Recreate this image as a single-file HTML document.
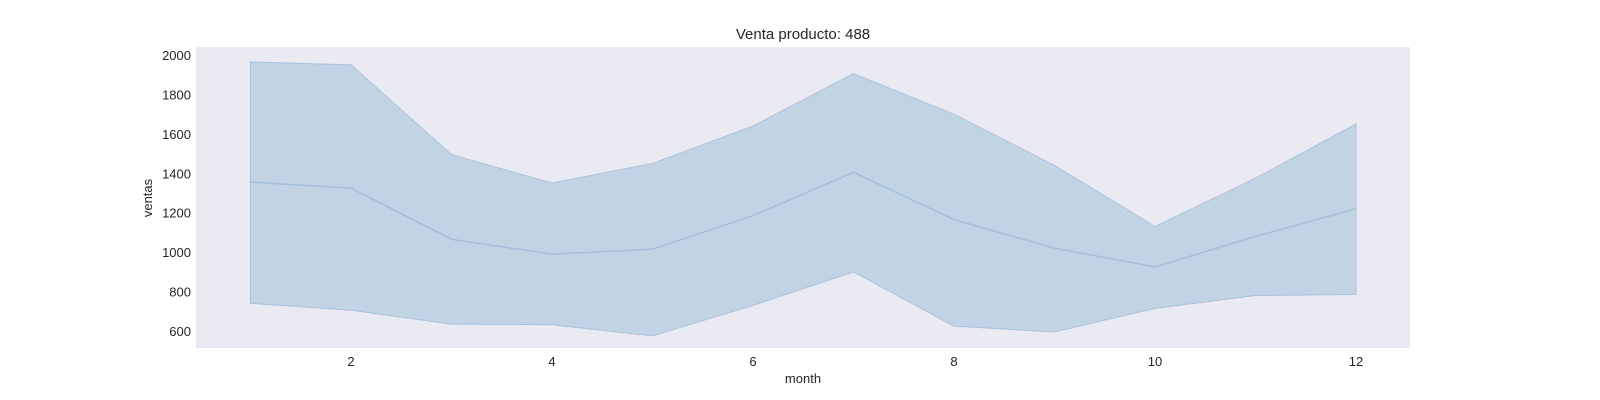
<!DOCTYPE html>
<html><head><meta charset="utf-8"><style>
body{margin:0;background:#fff;}
svg{display:block;font-family:"Liberation Sans",sans-serif;}
</style></head><body>
<svg id="chart" width="1600" height="400">
<rect x="196" y="47" width="1214" height="301" fill="#eaeaf2"/>
<text x="803" y="39" text-anchor="middle" font-size="15" fill="#262626">Venta producto: 488</text>
<text x="803" y="383" text-anchor="middle" font-size="13" fill="#262626">month</text>
<text transform="translate(152,198) rotate(-90)" text-anchor="middle" font-size="13" fill="#262626">ventas</text>
<g id="band"></g>
<g id="xt"></g>
<g id="yt"></g>
</svg>
<script>
const months=[1,2,3,4,5,6,7,8,9,10,11,12];
const meanVals=[1355,1325,1065,990,1015,1185,1405,1165,1020,925,1080,1220];
const upperVals=[1965,1950,1495,1350,1450,1640,1905,1700,1440,1130,1375,1650];
const lowerVals=[740,705,635,632,575,730,900,625,595,715,780,785];
const xTicks=[2,4,6,8,10,12];
const yTicks=[600,800,1000,1200,1400,1600,1800,2000];
const NS="http://www.w3.org/2000/svg";
const xs=m=>250.5+(m-1)*100.5;
const ys=v=>331-(v-600)*0.19714;
const band=document.getElementById('band');
let d='M'+months.map((m,i)=>xs(m)+','+ys(upperVals[i])).join('L');
for(let i=months.length-1;i>=0;i--)d+='L'+xs(months[i])+','+ys(lowerVals[i]);
d+='Z';
const area=document.createElementNS(NS,'path');
area.setAttribute('d',d);area.setAttribute('fill','#c2d3e4');area.setAttribute('stroke','#a9c2dc');area.setAttribute('stroke-width','1');


band.appendChild(area);
const line=document.createElementNS(NS,'polyline');
line.setAttribute('points',months.map((m,i)=>xs(m)+','+ys(meanVals[i])).join(' '));
line.setAttribute('fill','none');line.setAttribute('stroke','#a3bfd9');line.setAttribute('stroke-width','1.5');


band.appendChild(line);
const xt=document.getElementById('xt');
xTicks.forEach(t=>{const e=document.createElementNS(NS,'text');
e.setAttribute('x',xs(t));e.setAttribute('y',366);e.setAttribute('text-anchor','middle');e.setAttribute('font-size','13');e.setAttribute('fill','#262626');e.textContent=t;


xt.appendChild(e);});
const yt=document.getElementById('yt');
yTicks.forEach(t=>{const e=document.createElementNS(NS,'text');
e.setAttribute('x',191);e.setAttribute('y',ys(t)+5);e.setAttribute('text-anchor','end');e.setAttribute('font-size','13');e.setAttribute('fill','#262626');e.textContent=t;


yt.appendChild(e);});
</script>
</body></html>
